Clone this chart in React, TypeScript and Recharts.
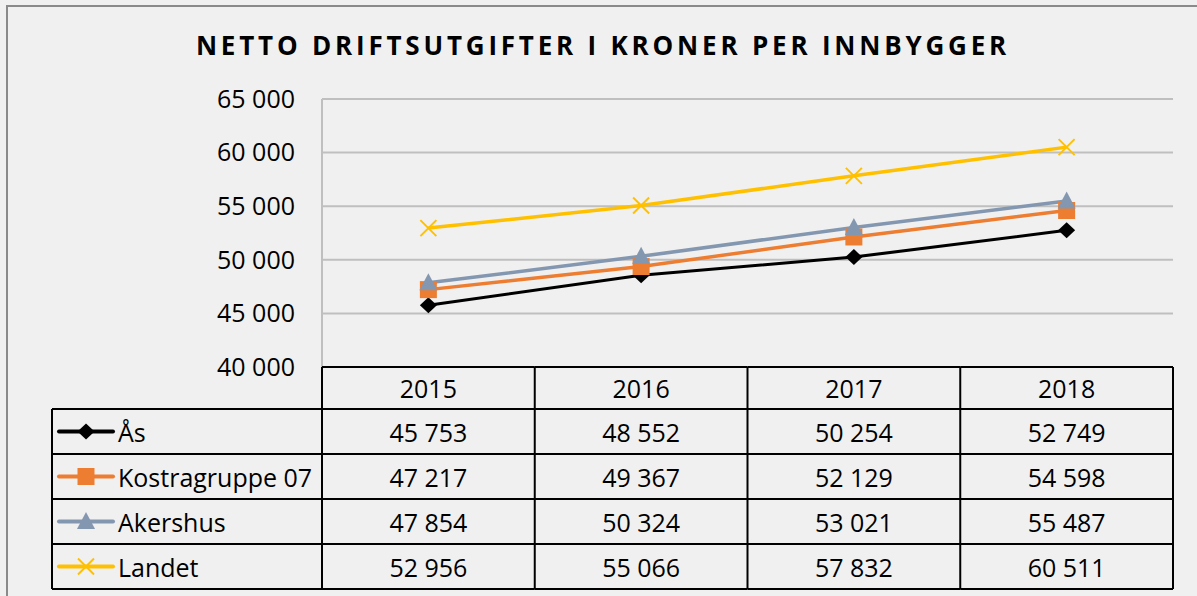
import { LineChart, Line, XAxis, YAxis, CartesianGrid } from 'recharts'

const years = ['2015', '2016', '2017', '2018']
const aas = [45753, 48552, 50254, 52749]
const kostra = [47217, 49367, 52129, 54598]
const akershus = [47854, 50324, 53021, 55487]
const landet = [52956, 55066, 57832, 60511]
const yTicks = [40000, 45000, 50000, 55000, 60000, 65000]

const SERIES = [
  { key: 'aas', name: 'Ås', color: '#000000', values: aas, marker: 'diamond', width: 3 },
  { key: 'kostra', name: 'Kostragruppe 07', color: '#ED7D31', values: kostra, marker: 'square', width: 3.5 },
  { key: 'akershus', name: 'Akershus', color: '#8497B0', values: akershus, marker: 'triangle', width: 3.5 },
  { key: 'landet', name: 'Landet', color: '#FFC000', values: landet, marker: 'x', width: 3.5 },
]

const data = years.map((year, i) => {
  const row: Record<string, string | number> = { year }
  SERIES.forEach((s) => (row[s.key] = s.values[i]))
  return row
})

const W = 1197
const H = 596
const PLOT_LEFT = 322
const PLOT_RIGHT = 1173
const PLOT_TOP = 99
const TABLE_H = 222
const HEADER_H = 42
const ROW_H = 45
const LEGEND_LEFT = 52
const BAND = (PLOT_RIGHT - PLOT_LEFT) / years.length
const FONT = '"Open Sans", "Noto Sans", sans-serif'
const FONT_SIZE = 25

const fmt = (v: number) => String(v).replace(/\B(?=(\d{3})+(?!\d))/g, ' ')

function Marker({ cx, cy, kind, color }: { cx: number; cy: number; kind: string; color: string }) {
  if (kind === 'diamond') {
    return <polygon points={`${cx},${cy - 8} ${cx + 8.5},${cy} ${cx},${cy + 8} ${cx - 8.5},${cy}`} fill={color} />
  }
  if (kind === 'square') {
    return <rect x={cx - 8.5} y={cy - 8.5} width={17} height={17} fill={color} />
  }
  if (kind === 'triangle') {
    return <polygon points={`${cx},${cy - 9.5} ${cx + 9},${cy + 7.5} ${cx - 9},${cy + 7.5}`} fill={color} />
  }
  return (
    <g stroke={color} strokeWidth={2}>
      <line x1={cx - 8} y1={cy - 8} x2={cx + 8} y2={cy + 8} />
      <line x1={cx - 8} y1={cy + 8} x2={cx + 8} y2={cy - 8} />
    </g>
  )
}

function TableTick(props: any) {
  const { x, y, payload, index } = props
  const top = y
  const left = x - BAND / 2
  const right = x + BAND / 2
  const bottom = top + TABLE_H
  const rowLines = SERIES.map((_, i) => top + HEADER_H + ROW_H * i).concat([bottom])
  const i = years.indexOf(payload.value)
  return (
    <g fontFamily={FONT} fontSize={FONT_SIZE} fill="#000">
      {/* column borders */}
      <line x1={left} y1={top} x2={right} y2={top} stroke="#000" strokeWidth={2} />
      <line x1={right} y1={top} x2={right} y2={bottom} stroke="#000" strokeWidth={2} />
      {index === 0 && <line x1={left} y1={top} x2={left} y2={bottom} stroke="#000" strokeWidth={2} />}
      {rowLines.map((ly) => (
        <line key={ly} x1={index === 0 ? LEGEND_LEFT : left} y1={ly} x2={right} y2={ly} stroke="#000" strokeWidth={2} />
      ))}
      {index === 0 && (
        <line x1={LEGEND_LEFT} y1={rowLines[0]} x2={LEGEND_LEFT} y2={bottom} stroke="#000" strokeWidth={2} />
      )}
      <text x={x} y={top + HEADER_H / 2} textAnchor="middle" dominantBaseline="central" stroke="none">
        {payload.value}
      </text>
      {SERIES.map((s, r) => (
        <text
          key={s.key}
          x={x}
          y={top + HEADER_H + ROW_H * r + ROW_H / 2}
          textAnchor="middle"
          dominantBaseline="central"
          stroke="none"
        >
          {fmt(s.values[i])}
        </text>
      ))}
      {index === 0 &&
        SERIES.map((s, r) => {
          const cy = top + HEADER_H + ROW_H * r + ROW_H / 2
          return (
            <g key={'lg' + s.key}>
              <line x1={59} y1={cy} x2={113} y2={cy} stroke={s.color} strokeWidth={4} strokeLinecap="round" />
              <Marker cx={86} cy={cy} kind={s.marker} color={s.color} />
              <text x={118} y={cy} dominantBaseline="central" stroke="none">
                {s.name}
              </text>
            </g>
          )
        })}
    </g>
  )
}

export default function App() {
  return (
    <div style={{ position: 'relative', width: W, height: H, background: '#F0F0F0', overflow: 'hidden' }}>
      <style>{'body{margin:0}'}</style>
      <div
        style={{
          position: 'absolute',
          left: 6,
          top: 5,
          right: -10,
          bottom: -10,
          borderLeft: '2px solid #8a8a8a',
          borderTop: '2px solid #8a8a8a',
        }}
      />
      <div
        style={{
          position: 'absolute',
          left: 0,
          width: 1206,
          top: 27,
          textAlign: 'center',
          fontFamily: FONT,
          fontWeight: 700,
          fontSize: 26,
          letterSpacing: 3.8,
          color: '#000',
          lineHeight: '36px',
        }}
      >
        NETTO DRIFTSUTGIFTER I KRONER PER INNBYGGER
      </div>
      <div style={{ position: 'absolute', left: 0, top: 0 }}>
        <LineChart
          width={W}
          height={H}
          data={data}
          margin={{ top: PLOT_TOP, right: W - PLOT_RIGHT, bottom: H - PLOT_TOP - 268 - TABLE_H, left: PLOT_LEFT - 80 }}
        >
          <CartesianGrid vertical={false} stroke="#BFBFBF" strokeWidth={2} />
          <XAxis
            dataKey="year"
            scale="band"
            interval={0}
            height={TABLE_H}
            tickSize={0}
            tickMargin={0}
            axisLine={false}
            tickLine={false}
            tick={<TableTick />}
          />
          <YAxis
            width={80}
            domain={[40000, 65000]}
            ticks={yTicks}
            tickFormatter={fmt}
            tickSize={0}
            tickMargin={27}
            axisLine={{ stroke: '#BFBFBF', strokeWidth: 2 }}
            tickLine={false}
            tick={{ fill: '#000', fontSize: FONT_SIZE, fontFamily: FONT }}
          />
          {SERIES.map((s) => (
            <Line
              key={s.key}
              dataKey={s.key}
              name={s.name}
              stroke={s.color}
              strokeWidth={s.width}
              isAnimationActive={false}
              dot={(p: any) => <Marker key={s.key + p.index} cx={p.cx} cy={p.cy} kind={s.marker} color={s.color} />}
              activeDot={false}
            />
          ))}
        </LineChart>
      </div>
    </div>
  )
}
